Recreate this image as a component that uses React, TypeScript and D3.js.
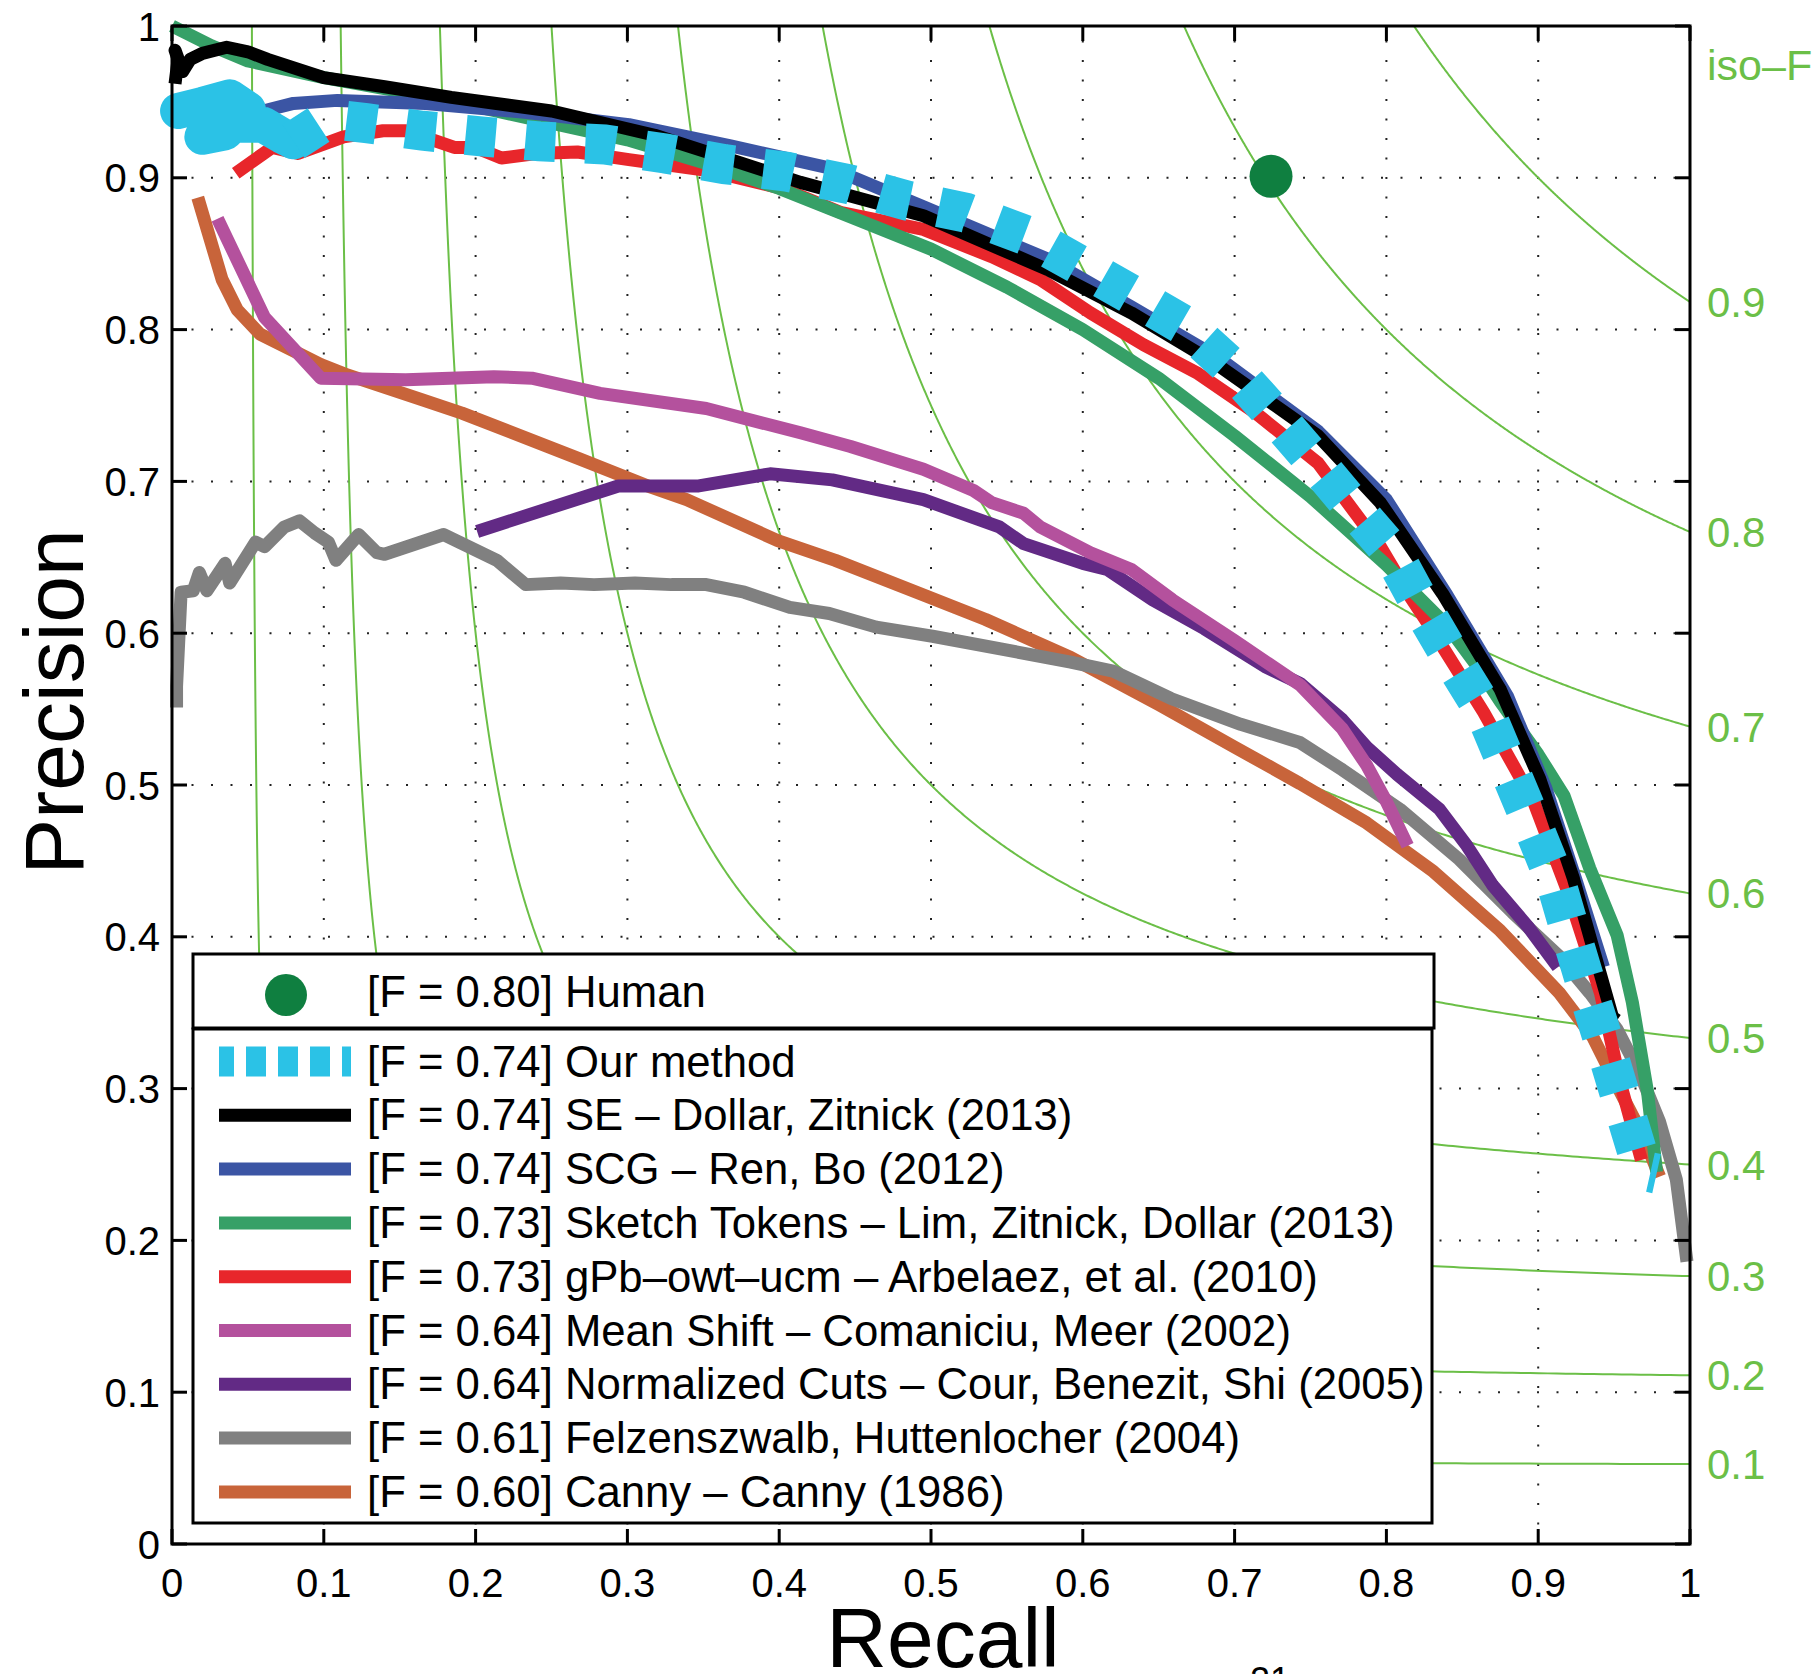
import React from 'react';
import * as d3 from 'd3';

const W = 1819;
const H = 1674;

const axisTicks = [0, 0.1, 0.2, 0.3, 0.4, 0.5, 0.6, 0.7, 0.8, 0.9, 1];
const tickLabels = ['0', '0.1', '0.2', '0.3', '0.4', '0.5', '0.6', '0.7', '0.8', '0.9', '1'];
const gridTicks = [0.1, 0.2, 0.3, 0.4, 0.5, 0.6, 0.7, 0.8, 0.9];
const isoFValues = [0.1, 0.2, 0.3, 0.4, 0.5, 0.6, 0.7, 0.8, 0.9];
const isoFLabels = ['0.1', '0.2', '0.3', '0.4', '0.5', '0.6', '0.7', '0.8', '0.9'];

// Human operating point [recall, precision]
const humanPoint: [number, number] = [0.724, 0.901];

// Our method: dense start (renders as solid blob) and dashed remainder
const ourMethodHead: [number, number][] = [
  [0.004, 0.944], [0.02, 0.948], [0.038, 0.953], [0.05, 0.945], [0.035, 0.93],
  [0.02, 0.927], [0.04, 0.935], [0.06, 0.935], [0.072, 0.928], [0.08, 0.924],
];
const ourMethod: [number, number][] = [
  [0.08, 0.924], [0.103, 0.939], [0.128, 0.936], [0.165, 0.931], [0.207, 0.927],
  [0.242, 0.924], [0.285, 0.922], [0.325, 0.916], [0.364, 0.909], [0.405, 0.904],
  [0.445, 0.896], [0.484, 0.885], [0.523, 0.877], [0.563, 0.862], [0.597, 0.843],
  [0.632, 0.823], [0.668, 0.802], [0.698, 0.775], [0.725, 0.745], [0.752, 0.714],
  [0.778, 0.683], [0.804, 0.653], [0.824, 0.616], [0.844, 0.582], [0.865, 0.548],
  [0.881, 0.51], [0.897, 0.472], [0.912, 0.435], [0.923, 0.397], [0.935, 0.357],
  [0.947, 0.319], [0.959, 0.279], [0.969, 0.246], [0.978, 0.244],
];
const seSeries: [number, number][] = [
  [0.002, 0.962], [0.004, 0.978], [0.002, 0.984], [0.007, 0.97], [0.012, 0.978],
  [0.02, 0.982], [0.036, 0.986], [0.05, 0.983], [0.063, 0.978], [0.1, 0.966],
  [0.14, 0.96], [0.184, 0.953], [0.25, 0.944], [0.318, 0.928], [0.368, 0.912],
  [0.414, 0.897], [0.495, 0.875], [0.578, 0.839], [0.632, 0.811], [0.687, 0.778],
  [0.755, 0.73], [0.796, 0.686], [0.837, 0.626], [0.875, 0.563], [0.901, 0.504],
  [0.923, 0.439], [0.936, 0.393], [0.949, 0.347], [0.952, 0.345],
];
const scgSeries: [number, number][] = [
  [0.06, 0.944], [0.08, 0.949], [0.109, 0.951], [0.167, 0.949], [0.234, 0.943],
  [0.301, 0.935], [0.368, 0.921], [0.435, 0.906], [0.495, 0.881], [0.578, 0.846],
  [0.632, 0.815], [0.69, 0.781], [0.755, 0.733], [0.8, 0.688], [0.84, 0.625],
  [0.88, 0.558], [0.905, 0.498], [0.925, 0.437], [0.943, 0.38],
];
const sketchTokensSeries: [number, number][] = [
  [0, 1.0], [0.026, 0.987], [0.05, 0.977], [0.1, 0.966], [0.15, 0.957],
  [0.2, 0.947], [0.25, 0.936], [0.3, 0.925], [0.35, 0.91], [0.4, 0.893],
  [0.45, 0.873], [0.5, 0.853], [0.55, 0.828], [0.6, 0.8], [0.65, 0.768],
  [0.7, 0.73], [0.75, 0.69], [0.8, 0.645], [0.823, 0.622], [0.84, 0.605],
  [0.86, 0.578], [0.875, 0.555], [0.9, 0.52], [0.917, 0.493], [0.934, 0.445],
  [0.952, 0.401], [0.962, 0.357], [0.972, 0.298], [0.978, 0.245],
];
const gpbSeries: [number, number][] = [
  [0.042, 0.903], [0.066, 0.92], [0.083, 0.916], [0.113, 0.927], [0.139, 0.931],
  [0.154, 0.931], [0.186, 0.92], [0.2, 0.92], [0.217, 0.913], [0.24, 0.916],
  [0.267, 0.917], [0.301, 0.912], [0.352, 0.905], [0.402, 0.893], [0.441, 0.877],
  [0.495, 0.866], [0.54, 0.848], [0.572, 0.833], [0.605, 0.811], [0.64, 0.79],
  [0.676, 0.771], [0.714, 0.745], [0.755, 0.712], [0.796, 0.657], [0.815, 0.625],
  [0.827, 0.607], [0.864, 0.548], [0.897, 0.489], [0.919, 0.431], [0.941, 0.363],
  [0.954, 0.304], [0.968, 0.253],
];
const meanShiftSeries: [number, number][] = [
  [0.03, 0.873], [0.061, 0.808], [0.098, 0.768], [0.154, 0.767], [0.212, 0.769],
  [0.237, 0.768], [0.282, 0.758], [0.352, 0.748], [0.414, 0.732], [0.447, 0.723],
  [0.495, 0.708], [0.528, 0.694], [0.54, 0.686], [0.561, 0.679], [0.572, 0.67],
  [0.605, 0.653], [0.632, 0.642], [0.659, 0.622], [0.7, 0.595], [0.743, 0.566],
  [0.771, 0.537], [0.787, 0.513], [0.8, 0.489], [0.814, 0.46],
];
const ncutsSeries: [number, number][] = [
  [0.201, 0.667], [0.294, 0.697], [0.347, 0.697], [0.394, 0.705], [0.435, 0.701],
  [0.495, 0.688], [0.545, 0.67], [0.561, 0.659], [0.6, 0.646], [0.616, 0.642],
  [0.646, 0.622], [0.68, 0.603], [0.72, 0.578], [0.743, 0.567], [0.771, 0.543],
  [0.787, 0.525], [0.807, 0.507], [0.835, 0.484], [0.853, 0.46], [0.87, 0.434],
  [0.893, 0.407], [0.913, 0.38],
];
const felzSeries: [number, number][] = [
  [0.003, 0.551], [0.003, 0.565], [0.006, 0.627], [0.014, 0.628], [0.018, 0.64],
  [0.023, 0.628], [0.035, 0.646], [0.038, 0.633], [0.055, 0.66], [0.061, 0.657],
  [0.074, 0.67], [0.084, 0.674], [0.094, 0.666], [0.103, 0.66], [0.108, 0.648],
  [0.123, 0.665], [0.135, 0.653], [0.14, 0.652], [0.179, 0.665], [0.214, 0.648],
  [0.233, 0.632], [0.256, 0.633], [0.278, 0.632], [0.305, 0.633], [0.329, 0.632],
  [0.352, 0.632], [0.377, 0.627], [0.407, 0.617], [0.433, 0.613], [0.464, 0.604],
  [0.501, 0.598], [0.592, 0.581], [0.62, 0.575], [0.658, 0.557], [0.704, 0.54],
  [0.743, 0.528], [0.771, 0.51], [0.809, 0.484], [0.848, 0.451], [0.883, 0.416],
  [0.914, 0.387], [0.934, 0.363], [0.952, 0.339], [0.967, 0.31], [0.98, 0.278],
  [0.991, 0.24], [0.998, 0.186],
];
const cannySeries: [number, number][] = [
  [0.017, 0.887], [0.033, 0.833], [0.043, 0.813], [0.058, 0.797], [0.098, 0.777],
  [0.113, 0.771], [0.164, 0.754], [0.191, 0.745], [0.268, 0.715], [0.316, 0.696],
  [0.339, 0.688], [0.399, 0.661], [0.437, 0.648], [0.498, 0.624], [0.536, 0.609],
  [0.592, 0.584], [0.65, 0.553], [0.7, 0.525], [0.743, 0.501], [0.787, 0.475],
  [0.831, 0.443], [0.875, 0.404], [0.914, 0.363], [0.936, 0.334], [0.954, 0.298],
  [0.969, 0.269], [0.98, 0.242],
];

const humanLabel = '[F = 0.80] Human';
const legendLabels = [
  '[F = 0.74] Our method',
  '[F = 0.74] SE \u2013 Dollar, Zitnick (2013)',
  '[F = 0.74] SCG \u2013 Ren, Bo (2012)',
  '[F = 0.73] Sketch Tokens \u2013 Lim, Zitnick, Dollar (2013)',
  '[F = 0.73] gPb\u2013owt\u2013ucm \u2013 Arbelaez, et al. (2010)',
  '[F = 0.64] Mean Shift \u2013 Comaniciu, Meer (2002)',
  '[F = 0.64] Normalized Cuts \u2013 Cour, Benezit, Shi (2005)',
  '[F = 0.61] Felzenszwalb, Huttenlocher (2004)',
  '[F = 0.60] Canny \u2013 Canny (1986)',
];
const legendColors = ['#2bc2e6', '#000000', '#3b55a4', '#36a067', '#e8262b', '#b4519d', '#622a85', '#808080', '#c8643a'];

const CYAN = '#2bc2e6';
const ISO = '#6bbf47';
const HUMAN = '#0f7f40';
const FONT = "'Liberation Sans', Arial, Helvetica, sans-serif";

export default function App() {
  React.useEffect(() => {
    document.body.style.margin = '0';
    document.body.style.overflow = 'hidden';
  }, []);

  const x = d3.scaleLinear().domain([0, 1]).range([172, 1690]);
  const y = d3.scaleLinear().domain([0, 1]).range([1544, 26]);
  const line = d3.line<[number, number]>().x((d) => x(d[0])).y((d) => y(d[1]));

  // iso-F contours: (R - F/2)(P - F/2) = F^2/4
  const isoPaths = isoFValues.map((F) => {
    const sMax = Math.log(2 / F - 1);
    const pts: [number, number][] = d3.range(0, 601).map((i) => {
      const s = -sMax + (2 * sMax * i) / 600;
      const a = (F / 2) * Math.exp(s);
      const b = (F / 2) * Math.exp(-s);
      return [a + F / 2, b + F / 2];
    });
    return { F, d: line(pts) as string, endP: F / (2 - F) };
  });

  const drawOrder: { data: [number, number][]; color: string }[] = [
    { data: cannySeries, color: legendColors[8] },
    { data: felzSeries, color: legendColors[7] },
    { data: ncutsSeries, color: legendColors[6] },
    { data: meanShiftSeries, color: legendColors[5] },
    { data: gpbSeries, color: legendColors[4] },
    { data: sketchTokensSeries, color: legendColors[3] },
    { data: scgSeries, color: legendColors[2] },
    { data: seSeries, color: legendColors[1] },
  ];

  const x0 = x(0), x1 = x(1), y0 = y(0), y1 = y(1);
  const rowY = (i: number) => 1061.5 + i * 53.8;

  return (
    <svg
      width={W}
      height={H}
      viewBox={`0 0 ${W} ${H}`}
      style={{ position: 'absolute', left: 0, top: 0, display: 'block', background: '#fff' }}
      fontFamily={FONT}
    >
      <rect x={0} y={0} width={W} height={H} fill="#fff" />
      {/* grid */}
      {gridTicks.map((t) => (
        <g key={'g' + t}>
          <line x1={x(t)} x2={x(t)} y1={y0} y2={y1} stroke="#222" strokeWidth={2} strokeDasharray="2 17.5" />
          <line x1={x0} x2={x1} y1={y(t)} y2={y(t)} stroke="#222" strokeWidth={2} strokeDasharray="2 17.5" />
        </g>
      ))}
      {/* iso-F */}
      {isoPaths.map((p) => (
        <path key={'iso' + p.F} d={p.d} fill="none" stroke={ISO} strokeWidth={2} />
      ))}
      {/* data curves */}
      {drawOrder.map((s, i) => (
        <path key={'s' + i} d={line(s.data) as string} fill="none" stroke={s.color} strokeWidth={13}
          strokeLinejoin="round" strokeLinecap="butt" />
      ))}
      <path d={line(ourMethodHead) as string} fill="none" stroke={CYAN} strokeWidth={36}
        strokeLinejoin="round" strokeLinecap="round" />
      <path d={line(ourMethod) as string} fill="none" stroke={CYAN} strokeWidth={40}
        strokeLinejoin="miter" strokeLinecap="butt" strokeDasharray="30 30" />
      <circle cx={x(humanPoint[0])} cy={y(humanPoint[1])} r={21.5} fill={HUMAN} />

      {/* legend */}
      <rect x={193} y={954} width={1241} height={74} fill="#fff" stroke="#000" strokeWidth={3} />
      <circle cx={286} cy={995} r={21} fill={HUMAN} />
      <text x={367} y={992 + 15} fontSize={43.7} fill="#000">{humanLabel}</text>
      <rect x={193} y={1029} width={1239} height={494} fill="#fff" stroke="#000" strokeWidth={3} />
      {legendLabels.map((lab, i) => (
        <g key={'l' + i}>
          {i === 0 ? (
            <line x1={219} x2={351} y1={rowY(i)} y2={rowY(i)} stroke={CYAN} strokeWidth={30}
              strokeDasharray="20 12" strokeDashoffset={5} />
          ) : (
            <line x1={219} x2={351} y1={rowY(i)} y2={rowY(i)} stroke={legendColors[i]} strokeWidth={13} />
          )}
          <text x={367} y={rowY(i) + 15} fontSize={43.7} fill="#000">{lab}</text>
        </g>
      ))}

      {/* axes box and ticks */}
      <rect x={x0} y={y1} width={x1 - x0} height={y0 - y1} fill="none" stroke="#000" strokeWidth={3} />
      {axisTicks.map((t, i) => (
        <g key={'t' + i}>
          <line x1={x(t)} x2={x(t)} y1={y0} y2={y0 - 15} stroke="#000" strokeWidth={3} />
          <line x1={x(t)} x2={x(t)} y1={y1} y2={y1 + 15} stroke="#000" strokeWidth={3} />
          <line x1={x0} x2={x0 + 15} y1={y(t)} y2={y(t)} stroke="#000" strokeWidth={3} />
          <line x1={x1} x2={x1 - 15} y1={y(t)} y2={y(t)} stroke="#000" strokeWidth={3} />
          <text x={x(t)} y={1597} fontSize={40} textAnchor="middle" fill="#000">{tickLabels[i]}</text>
          <text x={160} y={y(t) + 14.5} fontSize={40} textAnchor="end" fill="#000">{tickLabels[i]}</text>
        </g>
      ))}
      {/* iso-F labels */}
      <text x={1707} y={80} fontSize={43} fill={ISO}>iso–F</text>
      {isoPaths.map((p, i) => (
        <text key={'il' + i} x={1707} y={y(p.endP) + 15} fontSize={42} fill={ISO}>{isoFLabels[i]}</text>
      ))}
      {/* axis titles */}
      <text transform={`translate(83, 702) rotate(-90)`} fontSize={84} textAnchor="middle" fill="#000">Precision</text>
      <text x={943} y={1667} fontSize={84} textAnchor="middle" fill="#000">Recall</text>
      <text x={1270} y={1693} fontSize={36} textAnchor="middle" fill="#000">21</text>
    </svg>
  );
}
